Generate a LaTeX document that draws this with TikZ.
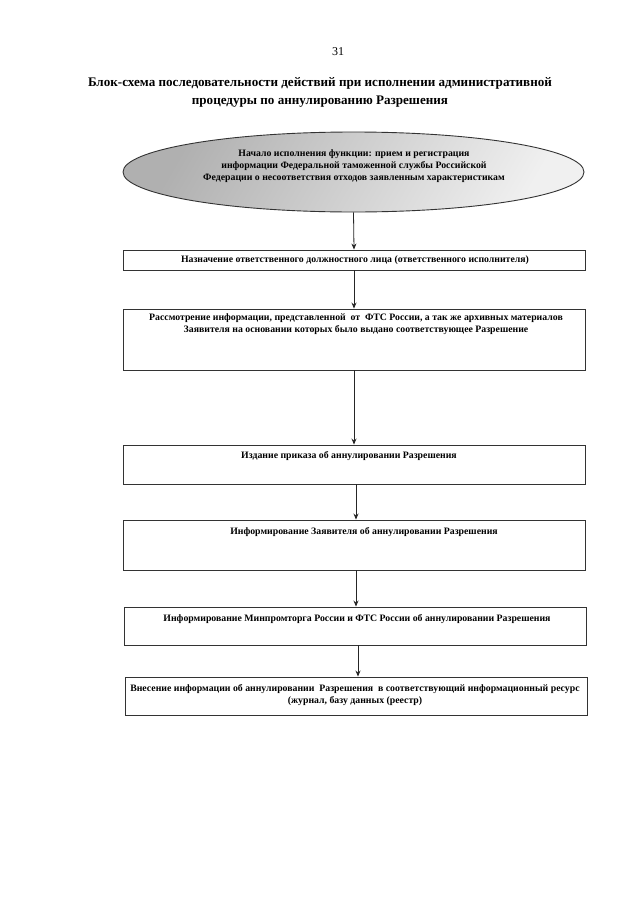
\documentclass[tikz,border=0pt]{standalone}
\usepackage{fontspec}
\setmainfont{Liberation Serif}
\usetikzlibrary{arrows.meta,shapes.geometric}
\begin{document}
\begin{tikzpicture}[x=1pt,y=-1pt,
  box/.style={draw=black!80, line width=0.9pt, rectangle, inner sep=0pt, minimum width=462pt},
  txt/.style={font=\bfseries\fontsize{9.8}{12}\selectfont, align=center, inner sep=0pt},
  arr/.style={draw=black!85, line width=0.8pt, -{Stealth[length=6pt,width=5pt]}}]
\useasboundingbox (0,0) rectangle (640,905);
\fill[white] (0,0) rectangle (640,905);
\node[font=\fontsize{12}{14}\selectfont, inner sep=0pt] (pg) at (338,52) {31};
\node[font=\bfseries\fontsize{13.1}{18}\selectfont, align=center, inner sep=0pt] (title) at (320,92)
  {Блок-схема последовательности действий при исполнении административной\\процедуры по аннулированию Разрешения};
\node[ellipse, draw=black!80, line width=0.9pt, minimum width=461pt, minimum height=80pt, inner sep=0pt,
  left color=gray!62, right color=gray!12, shading angle=60] (e) at (353.5,172) {};
\node[txt] (et) at (354,166) {Начало исполнения функции: прием и регистрация\\информации Федеральной таможенной службы Российской\\Федерации о несоответствия отходов заявленным характеристикам};
\node[box, minimum height=20pt] (b1) at (354,260) {};
\node[txt] (t1) at (355,260) {Назначение ответственного должностного лица (ответственного исполнителя)};
\node[box, minimum height=61pt] (b2) at (354,339.5) {};
\node[txt, anchor=north] (t2) at (356,313) {Рассмотрение информации, представленной~ от~ ФТС России, а так же архивных материалов\\Заявителя на основании которых было выдано соответствующее Разрешение};
\node[box, minimum height=39pt] (b3) at (354,464.5) {};
\node[txt] (t3) at (349,456) {Издание приказа об аннулировании Разрешения};
\node[box, minimum height=50pt] (b4) at (354,545) {};
\node[txt] (t4) at (364,532) {Информирование Заявителя об аннулировании Разрешения};
\node[box, minimum height=38pt] (b5) at (355,626) {};
\node[txt] (t5) at (357,619) {Информирование Минпромторга России и ФТС России об аннулировании Разрешения};
\node[box, minimum height=38pt] (b6) at (356,696) {};
\node[txt, anchor=north] (t6) at (355,684) {Внесение информации об аннулировании~ Разрешения~ в соответствующий информационный ресурс\\(журнал, базу данных (реестр)};
\draw[arr] (e.south) -- (b1.north);
\draw[arr] (b1.south) -- (b2.north);
\draw[arr] (b2.south) -- (b3.north);
\draw[arr] ([xshift=2pt]b3.south) -- ([xshift=2pt]b4.north);
\draw[arr] ([xshift=2pt]b4.south) -- ([xshift=1pt]b5.north);
\draw[arr] ([xshift=3pt]b5.south) -- ([xshift=2pt]b6.north);
\end{tikzpicture}
\end{document}
